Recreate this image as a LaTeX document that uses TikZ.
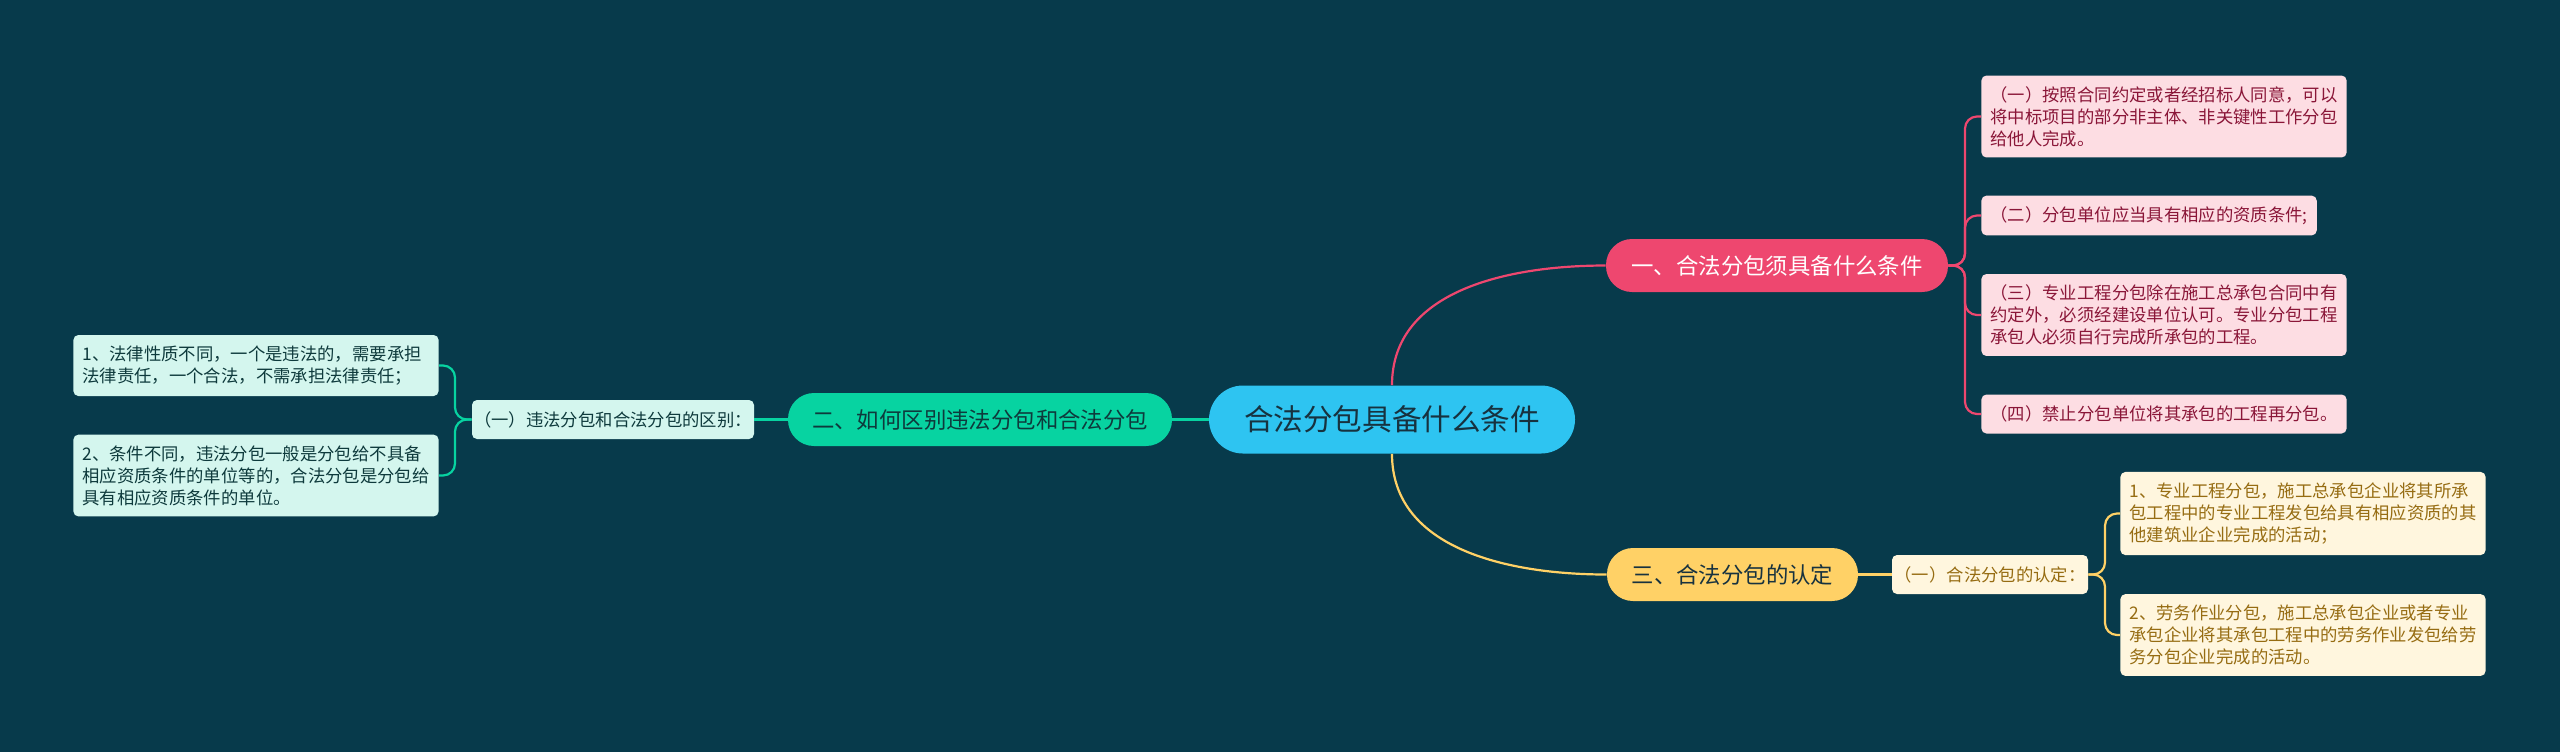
\documentclass[tikz,border=0pt]{standalone}
\usepackage{fontspec}
\setmainfont{Noto Sans CJK SC}
\definecolor{bgc}{HTML}{073A4B}
\definecolor{rootc}{HTML}{2EC4F1}
\definecolor{roott}{HTML}{17323F}
\definecolor{pinkc}{HTML}{EE476F}
\definecolor{pinkl}{HTML}{FDDDE3}
\definecolor{pinkt}{HTML}{8A1638}
\definecolor{greenc}{HTML}{07D3A1}
\definecolor{greenl}{HTML}{D4F6EE}
\definecolor{greent}{HTML}{0E3A3C}
\definecolor{yellowc}{HTML}{FFD166}
\definecolor{yellowl}{HTML}{FFF6DE}
\definecolor{yellowt}{HTML}{966C12}
\begin{document}
\begin{tikzpicture}[x=0.5pt,y=0.5pt,
  topic/.style={rounded corners=13pt,minimum height=26.5pt,inner sep=0pt,font=\fontsize{11.2}{13}\selectfont},
  subtopic/.style={rounded corners=2.5pt,minimum height=19.5pt,inner sep=0pt,font=\fontsize{8.67}{11}\selectfont},
  leaf/.style={rounded corners=2.5pt,align=left,inner xsep=4.6pt,inner ysep=5.4pt,minimum height=19.5pt,font=\fontsize{8.67}{11}\selectfont},
  pinkline/.style={draw=pinkc,line width=1.1pt},
  greenline/.style={draw=greenc,line width=1.1pt},
  yellowline/.style={draw=yellowc,line width=1.1pt}]
\fill[bgc] (0,0) rectangle (2560,-752);
\node[fill=rootc,text=roott,rounded corners=17pt,minimum width=183pt,minimum height=34pt,inner sep=0pt,font=\fontsize{14.8}{17}\selectfont] (root) at (1392,-419.5) {合法分包具备什么条件};
\node[topic,fill=pinkc,text=white,minimum width=171pt] (b1) at (1777,-265.5) {一、合法分包须具备什么条件};
\node[topic,fill=greenc,text=greent,minimum width=192pt] (b2) at (980,-419.5) {二、如何区别违法分包和合法分包};
\node[topic,fill=yellowc,text=roott,minimum width=125.5pt] (b3) at (1732.5,-574.5) {三、合法分包的认定};
\node[leaf,fill=pinkl,text=pinkt,anchor=west] (p1) at (1981,-116.5) {（一）按照合同约定或者经招标人同意，可以\\将中标项目的部分非主体、非关键性工作分包\\给他人完成。};
\node[leaf,fill=pinkl,text=pinkt,anchor=west] (p2) at (1981,-215.5) {（二）分包单位应当具有相应的资质条件;};
\node[leaf,fill=pinkl,text=pinkt,anchor=west] (p3) at (1981,-315) {（三）专业工程分包除在施工总承包合同中有\\约定外，必须经建设单位认可。专业分包工程\\承包人必须自行完成所承包的工程。};
\node[leaf,fill=pinkl,text=pinkt,anchor=west] (p4) at (1981,-414) {（四）禁止分包单位将其承包的工程再分包。};
\node[subtopic,fill=greenl,text=greent,minimum width=141pt] (gsub) at (613,-419.5) {（一）违法分包和合法分包的区别：};
\node[leaf,fill=greenl,text=greent,anchor=east,text width=173.4pt] (g1) at (439,-365.5) {1、法律性质不同，一个是违法的，需要承担\\法律责任，一个合法，不需承担法律责任；};
\node[leaf,fill=greenl,text=greent,anchor=east] (g2) at (439,-475.5) {2、条件不同，违法分包一般是分包给不具备\\相应资质条件的单位等的，合法分包是分包给\\具有相应资质条件的单位。};
\node[subtopic,fill=yellowl,text=yellowt,minimum width=98pt] (ysub) at (1990,-574.5) {（一）合法分包的认定：};
\node[leaf,fill=yellowl,text=yellowt,anchor=west] (y1) at (2120,-513.5) {1、专业工程分包，施工总承包企业将其所承\\包工程中的专业工程发包给具有相应资质的其\\他建筑业企业完成的活动；};
\node[leaf,fill=yellowl,text=yellowt,anchor=west] (y2) at (2120,-635) {2、劳务作业分包，施工总承包企业或者专业\\承包企业将其承包工程中的劳务作业发包给劳\\务分包企业完成的活动。};
\coordinate (pj) at (1965,-265.5);
\coordinate (gj) at (455,-419.5);
\coordinate (yj) at (2105,-574.5);
\draw[pinkline] (root.north) to[out=90,in=180] (b1.west);
\draw[yellowline] (root.south) to[out=-90,in=180] (b3.west);
\draw[greenline] (root.west) -- (b2.east);
\draw[greenline] (b2.west) -- (gsub.east);
\draw[yellowline] (b3.east) -- (ysub.west);
\draw[pinkline,rounded corners=6pt] (b1.east) -- (pj) |- (p1.west);
\draw[pinkline,rounded corners=6pt] (b1.east) -- (pj) |- (p2.west);
\draw[pinkline,rounded corners=6pt] (b1.east) -- (pj) |- (p3.west);
\draw[pinkline,rounded corners=6pt] (b1.east) -- (pj) |- (p4.west);
\draw[greenline,rounded corners=6pt] (gsub.west) -- (gj) |- (g1.east);
\draw[greenline,rounded corners=6pt] (gsub.west) -- (gj) |- (g2.east);
\draw[yellowline,rounded corners=6pt] (ysub.east) -- (yj) |- (y1.west);
\draw[yellowline,rounded corners=6pt] (ysub.east) -- (yj) |- (y2.west);
\end{tikzpicture}
\end{document}
